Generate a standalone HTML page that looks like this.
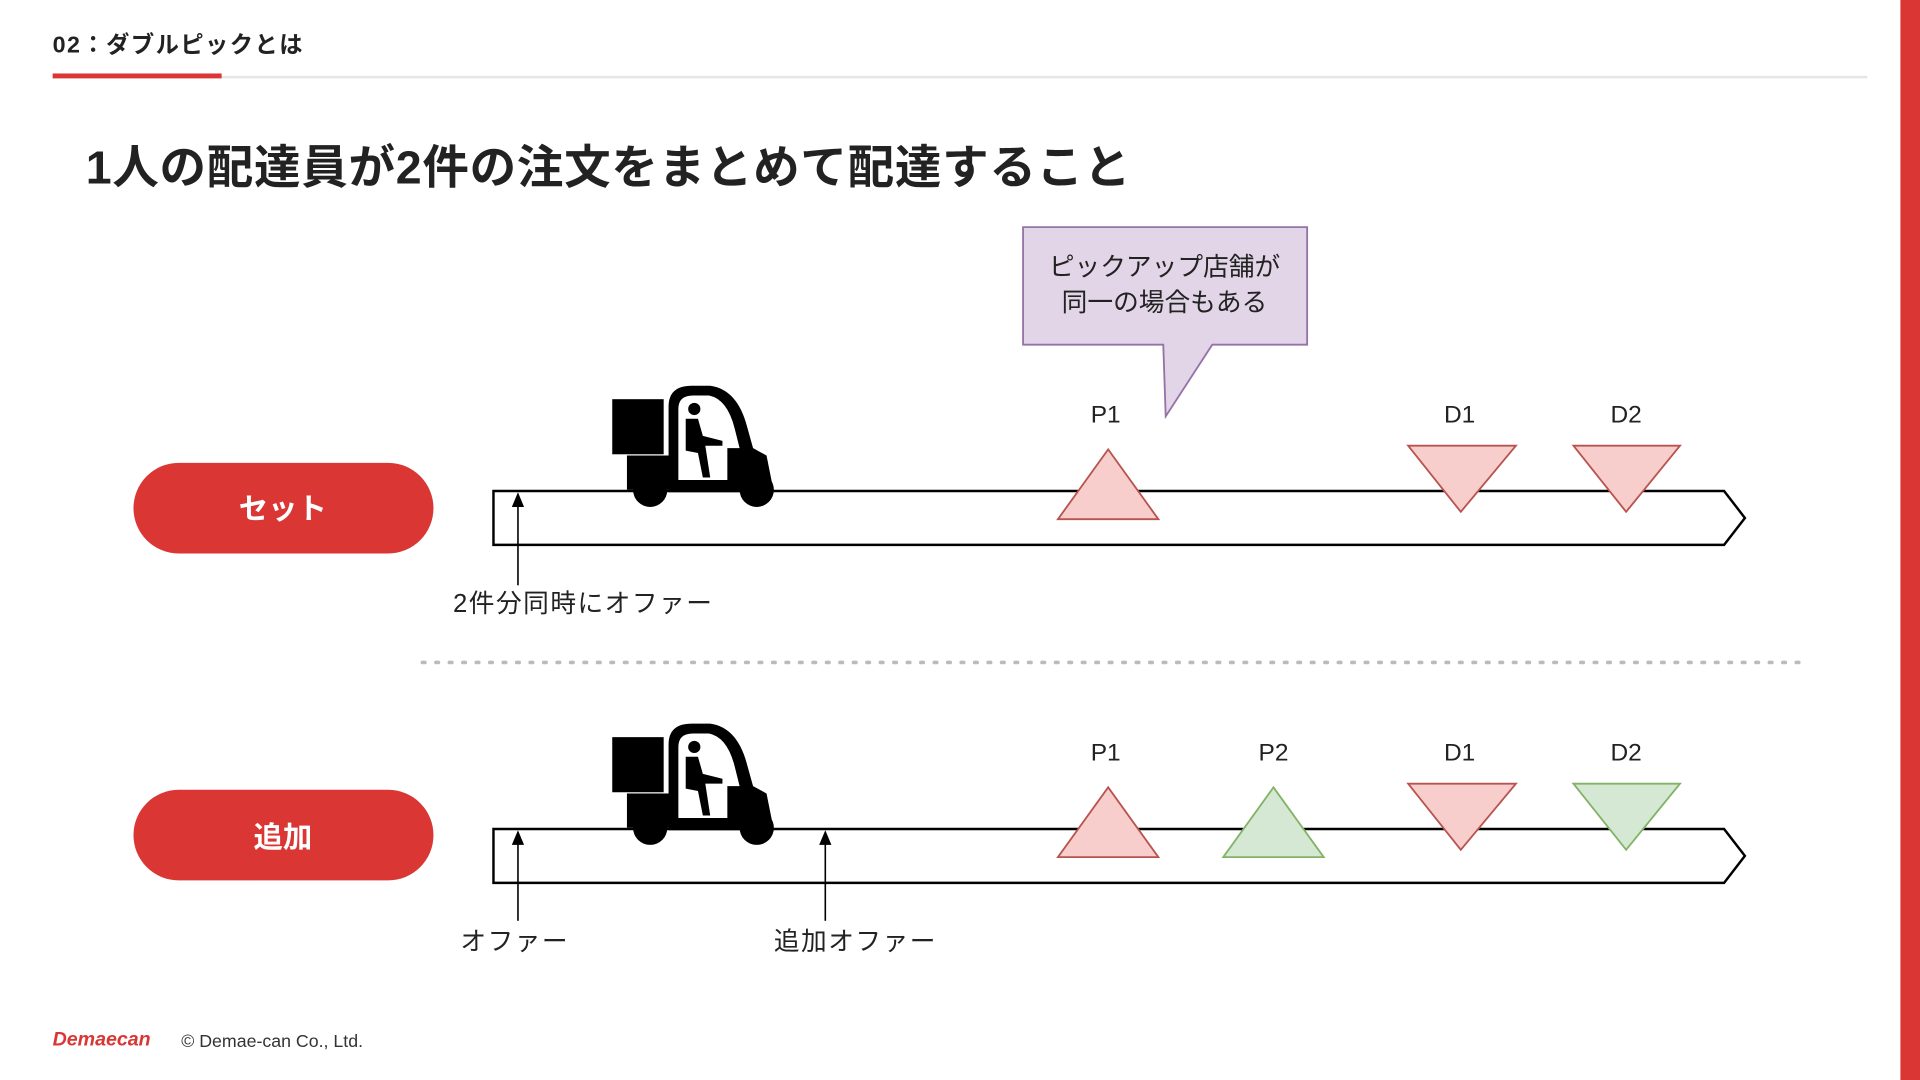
<!DOCTYPE html>
<html><head><meta charset="utf-8"><style>
html,body{margin:0;padding:0;background:#fff;width:1920px;height:1080px;overflow:hidden}
svg{display:block}
text{font-family:"Liberation Sans","Noto Sans CJK JP",sans-serif}
</style></head><body>
<svg width="1920" height="1080" viewBox="0 0 1568 882" preserveAspectRatio="none">
<defs>
<g id="truck">
<rect x="500" y="326" width="42" height="45" fill="#000"/>
<path d="M546,402 L546,332 Q546,315 565,315 L580,315 Q602,318 610,348 L615,366 L626,372 L632,402 Z" fill="#000"/>
<path d="M554,392 L554,334 Q554,323 566,323 L579,323 Q594,326 600,350 L604,366 L594,366 L594,392 Z" fill="#fff"/>
<circle cx="567" cy="334" r="5" fill="#000"/>
<path d="M560,342 L570,342 L574,356 L590,360 L590,364 L576,364 L580,390 L574,390 L570,370 L560,368 Z" fill="#000"/>
<rect x="512" y="372" width="40" height="28" fill="#000"/>
<circle cx="531" cy="400" r="14" fill="#000"/>
<circle cx="618" cy="400" r="14" fill="#000"/>
</g>
</defs>
<text x="43" y="43" font-size="19" font-weight="bold" fill="#222" letter-spacing="1.2">02：ダブルピックとは</text>
<rect x="43" y="62" width="1482" height="2" fill="#e6e6e6"/>
<rect x="43" y="60" width="138" height="4" fill="#d93634"/>
<rect x="1552" y="0" width="16" height="882" fill="#d93634"/>
<text x="70" y="150" font-size="38" font-weight="bold" fill="#222" letter-spacing="0.6">1人の配達員が2件の注文をまとめて配達すること</text>

<path d="M835.5,185.5 H1067.5 V281.5 H990 L952,340 L950,281.5 H835.5 Z" fill="#e1d5e7" stroke="#9673a6" stroke-width="1.5"/>
<text x="951" y="225" font-size="21" text-anchor="middle" fill="#222">ピックアップ店舗が</text>
<text x="951" y="254" font-size="21" text-anchor="middle" fill="#222">同一の場合もある</text>

<rect x="109" y="378" width="245" height="74" rx="37" fill="#d93634"/>
<text x="231" y="424" font-size="24" font-weight="bold" fill="#fff" text-anchor="middle">セット</text>
<path d="M403,401 H1408 L1425,423 L1408,445 H403 Z" fill="#fff" stroke="#000" stroke-width="2"/>
<use href="#truck"/>
<line x1="423" y1="478" x2="423" y2="410" stroke="#000" stroke-width="1.3"/>
<path d="M423,402 L418,414 L428,414 Z" fill="#000"/>
<text x="370" y="500" font-size="21" fill="#222" letter-spacing="1.2">2件分同時にオファー</text>
<text x="903" y="345" font-size="20" text-anchor="middle" fill="#222">P1</text>
<text x="1192" y="345" font-size="20" text-anchor="middle" fill="#222">D1</text>
<text x="1328" y="345" font-size="20" text-anchor="middle" fill="#222">D2</text>
<path d="M905,367 L946,424 L864,424 Z" fill="#f8cecc" stroke="#b85450" stroke-width="1.5"/>
<path d="M1150,364 L1238,364 L1193,418 Z" fill="#f8cecc" stroke="#b85450" stroke-width="1.5"/>
<path d="M1285,364 L1372,364 L1328,418 Z" fill="#f8cecc" stroke="#b85450" stroke-width="1.5"/>

<line x1="345" y1="541" x2="1476" y2="541" stroke="#bbb" stroke-width="3" stroke-dasharray="2,9" stroke-linecap="round"/>

<rect x="109" y="645" width="245" height="74" rx="37" fill="#d93634"/>
<text x="231" y="692" font-size="24" font-weight="bold" fill="#fff" text-anchor="middle">追加</text>
<path d="M403,677 H1408 L1425,699 L1408,721 H403 Z" fill="#fff" stroke="#000" stroke-width="2"/>
<use href="#truck" transform="translate(0,276)"/>
<line x1="423" y1="752" x2="423" y2="686" stroke="#000" stroke-width="1.3"/>
<path d="M423,678 L418,690 L428,690 Z" fill="#000"/>
<line x1="674" y1="752" x2="674" y2="686" stroke="#000" stroke-width="1.3"/>
<path d="M674,678 L669,690 L679,690 Z" fill="#000"/>
<text x="376" y="776" font-size="21" fill="#222" letter-spacing="1.2">オファー</text>
<text x="632" y="776" font-size="21" fill="#222" letter-spacing="1.2">追加オファー</text>
<text x="903" y="621" font-size="20" text-anchor="middle" fill="#222">P1</text>
<text x="1040" y="621" font-size="20" text-anchor="middle" fill="#222">P2</text>
<text x="1192" y="621" font-size="20" text-anchor="middle" fill="#222">D1</text>
<text x="1328" y="621" font-size="20" text-anchor="middle" fill="#222">D2</text>
<path d="M905,643 L946,700 L864,700 Z" fill="#f8cecc" stroke="#b85450" stroke-width="1.5"/>
<path d="M1040,643 L1081,700 L999,700 Z" fill="#d5e8d4" stroke="#82b366" stroke-width="1.5"/>
<path d="M1150,640 L1238,640 L1193,694 Z" fill="#f8cecc" stroke="#b85450" stroke-width="1.5"/>
<path d="M1285,640 L1372,640 L1328,694 Z" fill="#d5e8d4" stroke="#82b366" stroke-width="1.5"/>

<text x="43" y="854" font-size="16" font-weight="bold" fill="#d93634" font-style="italic">Demaecan</text>
<text x="148" y="855" font-size="14.5" fill="#333">© Demae-can Co., Ltd.</text>
</svg>
</body></html>
